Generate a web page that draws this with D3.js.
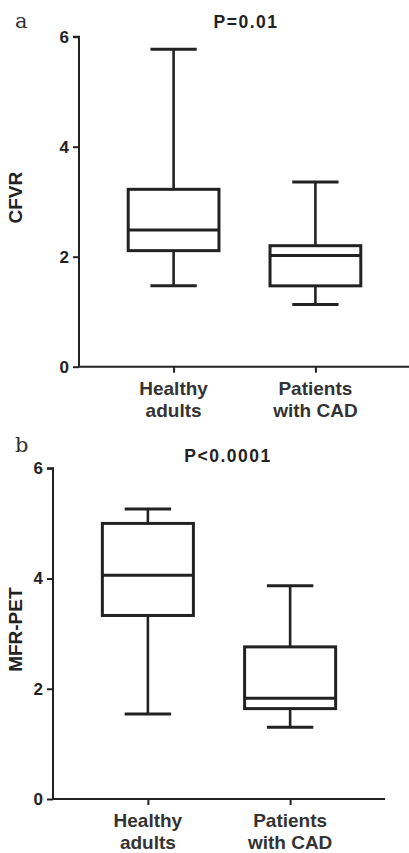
<!DOCTYPE html>
<html>
<head>
<meta charset="utf-8">
<script src="https://cdn.jsdelivr.net/npm/d3@7"></script>
<style>
    body { margin: 0; background: #fff; }
    svg { display: block; }
    .tick text { font-family: "Liberation Sans", Arial, sans-serif; font-weight: bold; fill: #222; }
</style>
</head>
<body>
<svg id="chart" width="409" height="853"></svg>
<script>
    'use strict';

    const groups = ['Healthy adults', 'Patients with CAD'];
    const yTicks = [0, 2, 4, 6];

    // [whisker low, q1, median, q3, whisker high]
    const cfvr = [
        [1.47, 2.11, 2.485, 3.225, 5.77],
        [1.13, 1.47, 2.02, 2.20, 3.36]
    ];
    const mfrPet = [
        [1.54, 3.33, 4.06, 5.00, 5.26],
        [1.30, 1.64, 1.83, 2.76, 3.87]
    ];

    const panels = [
        { letter: 'a', title: 'P=0.01', yLabel: 'CFVR', data: cfvr,
          left: 79, right: 410, top: 36.7, bottom: 366.7,
          titleX: 246, titleY: 28, letterY: 28 },
        { letter: 'b', title: 'P<0.0001', yLabel: 'MFR-PET', data: mfrPet,
          left: 53, right: 385, top: 468.3, bottom: 799,
          titleX: 228, titleY: 462, letterY: 452 }
    ];

    const ink = '#222';
    const svg = d3.select('#chart');

    panels.forEach(drawPanel);

    function drawPanel(p) {
        const g = svg.append('g');

        const x = d3.scalePoint()
            .domain(groups)
            .range([p.left, p.right])
            .padding(0.667);
        const y = d3.scaleLinear()
            .domain([0, 6])
            .range([p.bottom, p.top]);

        const step = x.step();
        const boxW = step * 0.64;
        const capW = boxW * 0.51;

        // y axis
        const yAxis = g.append('g')
            .attr('transform', `translate(${p.left}, 0)`)
            .call(d3.axisLeft(y).tickValues(yTicks).tickSize(6).tickPadding(4).tickFormat(d3.format('d')));
        yAxis.select('.domain').attr('d', `M-6,${p.top}H0V${p.bottom}`);
        styleAxis(yAxis);

        // x axis
        const xAxis = g.append('g')
            .attr('transform', `translate(0, ${p.bottom})`)
            .call(d3.axisBottom(x).tickSize(6).tickFormat(''));
        xAxis.select('.domain').attr('d', `M${p.left},0H${p.right}`);
        styleAxis(xAxis);

        // x labels on two lines
        groups.forEach((name, i) => {
            const words = i === 0 ? ['Healthy', 'adults'] : ['Patients', 'with CAD'];
            const t = g.append('text')
                .attr('x', x(name))
                .attr('y', p.bottom + 28)
                .attr('text-anchor', 'middle')
                .attr('font-family', '"Liberation Sans", Arial, sans-serif')
                .attr('font-weight', 'bold')
                .attr('font-size', 19)
                .attr('fill', '#333');
            words.forEach((w, j) => {
                t.append('tspan').attr('x', x(name)).attr('dy', j === 0 ? 0 : 22).text(w);
            });
        });

        // boxes
        p.data.forEach((d, i) => {
            const cx = x(groups[i]);
            const [lo, q1, med, q3, hi] = d;
            const b = g.append('g').attr('stroke', ink).attr('fill', 'none');
            b.append('line').attr('x1', cx).attr('x2', cx).attr('y1', y(hi)).attr('y2', y(q3)).attr('stroke-width', 2.6);
            b.append('line').attr('x1', cx).attr('x2', cx).attr('y1', y(q1)).attr('y2', y(lo)).attr('stroke-width', 2.6);
            b.append('line').attr('x1', cx - capW / 2).attr('x2', cx + capW / 2).attr('y1', y(hi)).attr('y2', y(hi)).attr('stroke-width', 3);
            b.append('line').attr('x1', cx - capW / 2).attr('x2', cx + capW / 2).attr('y1', y(lo)).attr('y2', y(lo)).attr('stroke-width', 3);
            b.append('rect')
                .attr('x', cx - boxW / 2).attr('width', boxW)
                .attr('y', y(q3)).attr('height', y(q1) - y(q3))
                .attr('fill', '#fff').attr('stroke-width', 3);
            b.append('line').attr('x1', cx - boxW / 2).attr('x2', cx + boxW / 2).attr('y1', y(med)).attr('y2', y(med)).attr('stroke-width', 3);
        });

        // titles and labels
        g.append('text')
            .attr('x', p.titleX)
            .attr('y', p.titleY)
            .attr('text-anchor', 'middle')
            .attr('font-family', '"Liberation Sans", Arial, sans-serif')
            .attr('font-weight', 'bold')
            .attr('font-size', 17.5)
            .attr('letter-spacing', 1.5)
            .attr('fill', '#222')
            .text(p.title);

        g.append('text')
            .attr('x', 15)
            .attr('y', p.letterY)
            .attr('font-family', '"DejaVu Serif", "Liberation Serif", serif')
            .attr('font-size', 21)
            .attr('fill', '#333')
            .text(p.letter);

        g.append('text')
            .attr('transform', `translate(22, ${(p.top + p.bottom) / 2 - 4}) rotate(-90)`)
            .attr('text-anchor', 'middle')
            .attr('font-family', '"Liberation Sans", Arial, sans-serif')
            .attr('font-weight', 'bold')
            .attr('font-size', 19)
            .attr('fill', '#222')
            .text(p.yLabel);
    }

    function styleAxis(a) {
        a.select('.domain').attr('stroke', ink).attr('stroke-width', 2);
        a.selectAll('.tick line').attr('stroke', ink).attr('stroke-width', 2);
        a.selectAll('.tick text').attr('font-size', 17).attr('fill', '#222');
    }
</script>
</body>
</html>
